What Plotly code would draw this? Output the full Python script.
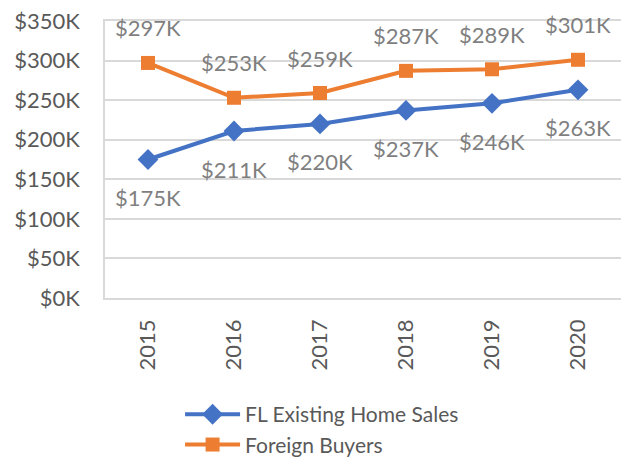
import plotly.graph_objects as go

years = ["2015", "2016", "2017", "2018", "2019", "2020"]
fl_existing = [175, 211, 220, 237, 246, 263]
foreign_buyers = [297, 253, 259, 287, 289, 301]
y_tick_vals = [0, 50, 100, 150, 200, 250, 300, 350]
y_tick_text = ["$0K", "$50K", "$100K", "$150K", "$200K", "$250K", "$300K", "$350K"]

BLUE = "#4472C4"
ORANGE = "#ED7D31"
FONT = "Lato"

fig = go.Figure()
fig.add_trace(go.Scatter(
    x=years, y=fl_existing, name="FL Existing Home Sales", mode="lines+markers",
    line=dict(color=BLUE, width=4), marker=dict(symbol="diamond", size=16, color=BLUE),
))
fig.add_trace(go.Scatter(
    x=years, y=foreign_buyers, name="Foreign Buyers", mode="lines+markers",
    line=dict(color=ORANGE, width=4), marker=dict(symbol="square", size=14, color=ORANGE),
))

# category axis: annotations placed by category index
for i, v in enumerate(fl_existing):
    fig.add_annotation(x=i, y=v, text=f"${v}K", showarrow=False, yshift=-38,
                       font=dict(family=FONT, size=22, color="#7f7f7f"))
for i, v in enumerate(foreign_buyers):
    fig.add_annotation(x=i, y=v, text=f"${v}K", showarrow=False, yshift=35,
                       font=dict(family=FONT, size=22, color="#7f7f7f"))

# page body has an 8px default margin, so the figure is sized to fit the window
fig.update_layout(
    width=622, height=458,
    margin=dict(l=97, r=9, t=13, b=168),
    paper_bgcolor="white", plot_bgcolor="white",
    font=dict(family=FONT, color="#595959", size=22),
    showlegend=True,
    legend=dict(x=0.1455, y=0.157, xref="paper", yref="container",
                xanchor="left", yanchor="top",
                font=dict(family=FONT, size=21, color="#595959"),
                itemwidth=55, tracegroupgap=0, bgcolor="rgba(0,0,0,0)"),
    xaxis=dict(type="category", range=[-0.5, len(years) - 0.5], tickangle=-90,
               showgrid=False, showline=True, automargin=False,
               linecolor="#d9d9d9", linewidth=1.5, ticks="", ticklabelstandoff=11,
               tickfont=dict(size=22, color="#595959"), mirror=True),
    yaxis=dict(range=[0, 350], tickvals=y_tick_vals, ticktext=y_tick_text,
               showgrid=True, gridcolor="#d9d9d9", gridwidth=1.5, zeroline=False,
               showline=True, linecolor="#d9d9d9", linewidth=1.5, ticks="",
               automargin=False, ticklabeloverflow="allow",
               ticklabelstandoff=19, tickfont=dict(size=22, color="#595959")),
)

fig.write_html("out.html")
